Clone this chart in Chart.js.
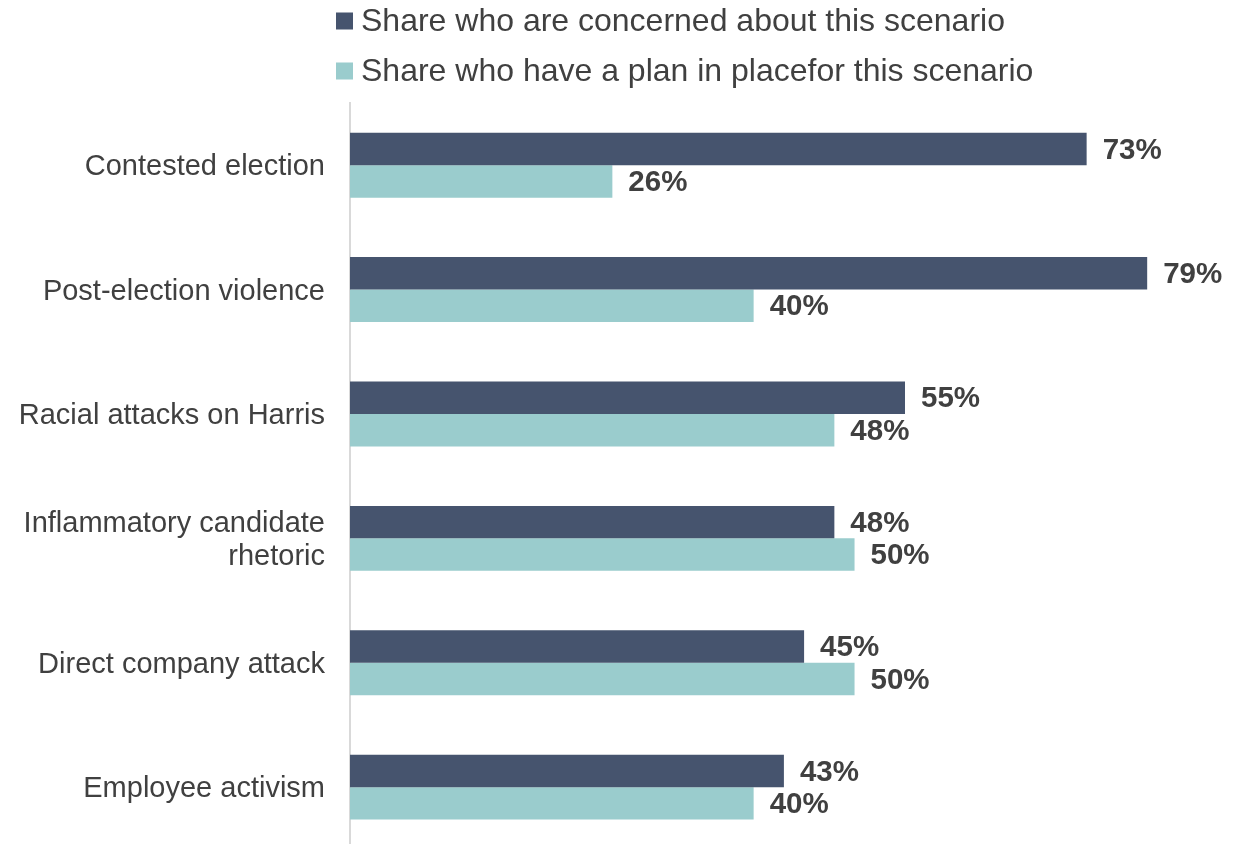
<!DOCTYPE html>
<html>
<head>
<meta charset="utf-8">
<script src="https://cdn.jsdelivr.net/npm/chart.js@4.4.1/dist/chart.umd.min.js"></script>
<style>
  html, body { margin: 0; padding: 0; background: #ffffff; overflow: hidden; }
  #wrap { width: 1242px; height: 844px; overflow: hidden; }
  canvas { display: block; }
</style>
</head>
<body>
<div id="wrap"><canvas id="chart" width="1242" height="891"></canvas></div>
<script>
// Scenario categories (multi-line labels as arrays)
const categories = [
  'Contested election',
  'Post-election violence',
  'Racial attacks on Harris',
  ['Inflammatory candidate', 'rhetoric'],
  'Direct company attack',
  'Employee activism'
];

// Series values, in percent
const concernedValues = [73, 79, 55, 48, 45, 43];
const planValues = [26, 40, 48, 50, 50, 40];

// Legend texts
const seriesNames = [
  'Share who are concerned about this scenario',
  'Share who have a plan in placefor this scenario'
];

const DARK = '#46546e';
const LIGHT = '#9acccd';
const TEXT = '#404040';
const FONT = '"Liberation Sans", Arial, Helvetica, sans-serif';

// Percent labels at the end of each bar
const valueLabels = {
  id: 'valueLabels',
  afterDatasetsDraw(chart) {
    const ctx = chart.ctx;
    ctx.save();
    ctx.font = 'bold 29.5px ' + FONT;
    ctx.fillStyle = TEXT;
    ctx.textAlign = 'left';
    ctx.textBaseline = 'middle';
    chart.data.datasets.forEach((ds, i) => {
      const meta = chart.getDatasetMeta(i);
      meta.data.forEach((bar, j) => {
        ctx.fillText(ds.data[j] + '%', bar.x + 16, bar.y + 1.5);
      });
    });
    ctx.restore();
  }
};

// Stacked legend at the top
const topLegend = {
  id: 'topLegend',
  afterDraw(chart) {
    const ctx = chart.ctx;
    ctx.save();
    ctx.font = '32px ' + FONT;
    ctx.textAlign = 'left';
    ctx.textBaseline = 'alphabetic';
    const rows = [{ y: 31, color: DARK }, { y: 81, color: LIGHT }];
    rows.forEach((r, i) => {
      ctx.fillStyle = r.color;
      ctx.fillRect(336, r.y - 18.5, 17, 17);
      ctx.fillStyle = TEXT;
      ctx.fillText(seriesNames[i], 361, r.y);
    });
    ctx.restore();
  }
};

new Chart(document.getElementById('chart'), {
  type: 'bar',
  data: {
    labels: categories,
    datasets: [
      { label: seriesNames[0], data: concernedValues, backgroundColor: DARK,
        categoryPercentage: 0.522, barPercentage: 1.0, borderWidth: 0 },
      { label: seriesNames[1], data: planValues, backgroundColor: LIGHT,
        categoryPercentage: 0.522, barPercentage: 1.0, borderWidth: 0 }
    ]
  },
  options: {
    indexAxis: 'y',
    responsive: false,
    animation: false,
    layout: { padding: { top: 103, right: 4, bottom: 0, left: 0 } },
    plugins: {
      legend: { display: false },
      tooltip: { enabled: false }
    },
    scales: {
      x: {
        display: false,
        min: 0,
        max: 88
      },
      y: {
        afterFit(scale) { scale.width = 350; },
        grid: { display: false, drawTicks: false },
        border: { display: true, color: '#d9d9d9', width: 2 },
        ticks: {
          color: TEXT,
          padding: 25,
          labelOffset: 2,
          font: { family: FONT, size: 29, lineHeight: 1.15 }
        }
      }
    }
  },
  plugins: [valueLabels, topLegend]
});
</script>
</body>
</html>
